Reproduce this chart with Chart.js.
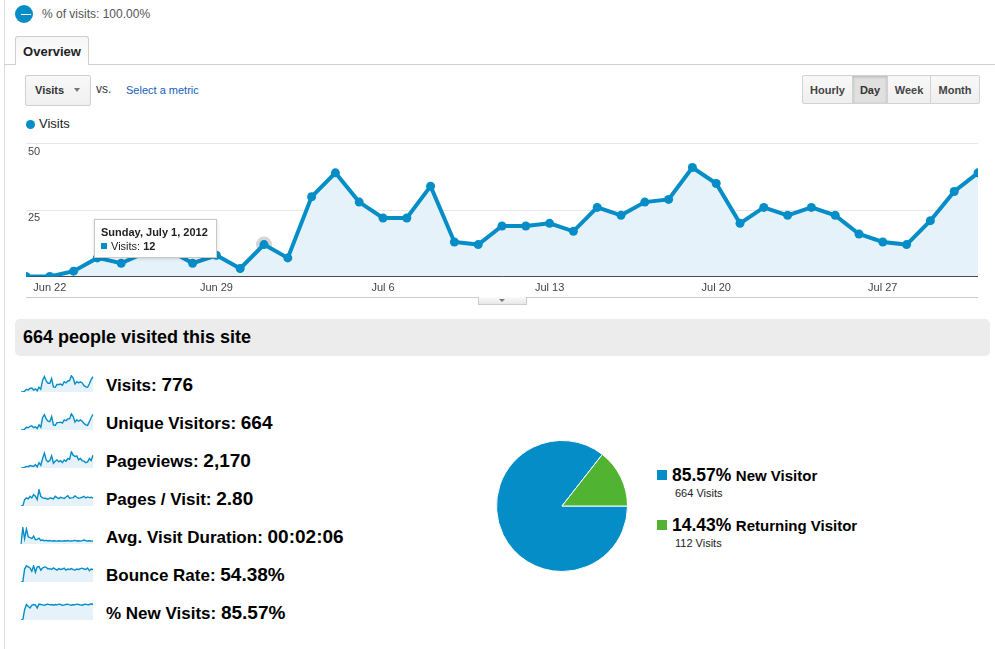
<!DOCTYPE html>
<html><head><meta charset="utf-8">
<script src="https://cdn.jsdelivr.net/npm/chart.js@4.4.0/dist/chart.umd.min.js"></script>
<style>
body{margin:0;width:995px;height:649px;overflow:hidden;background:#fff;font-family:"Liberation Sans",Arial,sans-serif;position:relative;color:#222;}
.a{position:absolute;}
.btn{position:absolute;top:75px;height:29px;line-height:29px;text-align:center;font-size:11px;font-weight:bold;color:#444;background:linear-gradient(#f8f8f8,#efefef);border:1px solid #d2d2d2;box-sizing:border-box;}
.row{position:absolute;left:106px;font-weight:bold;color:#000;font-size:17px;white-space:nowrap;transform:translateY(-50%);}
.row b{font-size:19px;}
.spark{position:absolute;left:20px;}
</style></head><body>
<div class="a" style="left:4px;top:0;width:1px;height:649px;background:#dcdcdc"></div>
<div class="a" style="left:15px;top:5px;width:18px;height:18px;border-radius:50%;background:#058dc7"></div>
<div class="a" style="left:21px;top:13.5px;width:10px;height:1.5px;background:#fff"></div>
<div class="a" style="left:42px;top:6px;font-size:12px;color:#555;line-height:16px">% of visits: 100.00%</div>

<div class="a" style="left:4px;top:64px;width:991px;height:1px;background:#cfcfcf"></div>
<div class="a" style="left:15px;top:36px;width:74px;height:29px;box-sizing:border-box;border:1px solid #cfcfcf;border-bottom:none;border-radius:3px 3px 0 0;background:linear-gradient(#f6f6f6,#fff);font-size:13px;font-weight:bold;line-height:29px;text-align:center;color:#222">Overview</div>

<div class="a" style="left:25px;top:75px;width:66px;height:31px;box-sizing:border-box;border:1px solid #cfcfcf;border-radius:2px;background:linear-gradient(#f8f8f8,#f0f0f0);"></div>
<div class="a" style="left:35px;top:83px;font-size:11px;font-weight:bold;color:#333;line-height:14px">Visits</div>
<div class="a" style="left:74px;top:88px;width:0;height:0;border-left:3.5px solid transparent;border-right:3.5px solid transparent;border-top:4px solid #777"></div>
<div class="a" style="left:96px;top:82px;font-size:12px;color:#333;line-height:14px">vs.</div>
<div class="a" style="left:126px;top:83px;font-size:11px;color:#1560bd;line-height:14px">Select a metric</div>

<div class="btn" style="left:802px;width:51px;border-radius:2px 0 0 2px">Hourly</div>
<div class="btn" style="left:852px;width:36px;background:#e0e0e0;box-shadow:inset 0 1px 3px rgba(0,0,0,0.2);color:#333">Day</div>
<div class="btn" style="left:887px;width:44px">Week</div>
<div class="btn" style="left:930px;width:50px;border-radius:0 2px 2px 0">Month</div>

<div class="a" style="left:25.5px;top:119.5px;width:9px;height:9px;border-radius:50%;background:#058dc7"></div>
<div class="a" style="left:39px;top:116px;font-size:13px;color:#222;line-height:16px">Visits</div>

<canvas id="main" class="a" style="left:26px;top:135px" width="952" height="160"></canvas>
<div id="tip" class="a" style="width:123px;height:39px;box-sizing:border-box;background:#fff;border:1px solid #c8c8c8;box-shadow:0 1px 3px rgba(0,0,0,0.15);font-size:11px;color:#222;line-height:14px;padding:5px 0 0 6px">
<div style="font-weight:bold">Sunday, July 1, 2012</div>
<div><span style="display:inline-block;width:6px;height:6px;background:#058dc7;margin-right:4px;vertical-align:1px"></span>Visits: <b>12</b></div>
</div>

<div class="a" style="left:26px;top:297px;width:952px;height:1px;background:#ccc"></div>
<div class="a" style="left:478px;top:297px;width:49px;height:8px;box-sizing:border-box;border:1px solid #ccc;border-top:none;background:linear-gradient(#fafafa,#e8e8e8)"></div>
<div class="a" style="left:499px;top:299px;width:0;height:0;border-left:3.5px solid transparent;border-right:3.5px solid transparent;border-top:3.5px solid #777"></div>

<div class="a" style="left:15px;top:319px;width:975px;height:37px;background:#ececec;border-radius:5px"></div>
<div class="a" style="left:23px;top:327px;font-size:18px;font-weight:bold;color:#000;line-height:21px">664 people visited this site</div>

<div id="rows"></div>

<canvas id="pie" class="a" style="left:495.5px;top:439.5px" width="132" height="132"></canvas>
<div class="a" style="left:657px;top:469.5px;width:10px;height:10px;background:#058dc7"></div>
<div class="a" style="left:672px;top:465px;font-weight:bold;color:#000;white-space:nowrap;line-height:20px"><span style="font-size:17.5px">85.57%</span> <span style="font-size:15px">New Visitor</span></div>
<div class="a" style="left:675px;top:486px;font-size:11px;color:#222;line-height:14px">664 Visits</div>
<div class="a" style="left:657px;top:519.5px;width:10px;height:10px;background:#50b432"></div>
<div class="a" style="left:672px;top:515px;font-weight:bold;color:#000;white-space:nowrap;line-height:20px"><span style="font-size:17.5px">14.43%</span> <span style="font-size:15px">Returning Visitor</span></div>
<div class="a" style="left:675px;top:536px;font-size:11px;color:#222;line-height:14px">112 Visits</div>

<script>
// ---- data ----
const days = ['Jun 21','Jun 22','Jun 23','Jun 24','Jun 25','Jun 26','Jun 27','Jun 28','Jun 29','Jun 30',
  'Jul 1','Jul 2','Jul 3','Jul 4','Jul 5','Jul 6','Jul 7','Jul 8','Jul 9','Jul 10','Jul 11','Jul 12','Jul 13',
  'Jul 14','Jul 15','Jul 16','Jul 17','Jul 18','Jul 19','Jul 20','Jul 21','Jul 22','Jul 23','Jul 24','Jul 25',
  'Jul 26','Jul 27','Jul 28','Jul 29','Jul 30','Jul 31'];
const tickLabels = ['Jun 22','Jun 29','Jul 6','Jul 13','Jul 20','Jul 27'];
const yTickValues = [25, 50];
const visits = [0,0,2,7,5,9,10,5,8,3,12,7,30,39,28,22,22,34,13,12,19,19,20,17,26,23,28,29,41,35,20,26,23,26,23,16,13,12,21,32,39];
const uniqueVisitors = [0,0,2,6,5,8,9,5,7,3,11,6,27,33,24,19,18,29,11,10,16,16,17,15,22,20,24,24,35,29,17,22,19,22,19,14,11,10,18,27,34];
const pageviews = [0,0,4,12,10,18,15,12,25,8,40,20,70,110,60,45,55,90,35,50,60,45,55,40,60,50,70,65,120,95,85,90,60,70,55,50,40,45,70,55,95];
const pagesPerVisit = [0,0,2,2.5,2.2,3,2.5,3.5,3,2,5,3,2.5,2.4,2.3,2.1,2.5,2.4,2.2,3,2.6,2.3,2.7,2.5,2.3,2.8,3.2,2.4,2.5,2.6,3.1,2.7,2.4,2.5,2.7,3,2.5,2.8,2.6,2.7,2.4];
const avgDuration = [0,450,150,420,200,180,150,220,120,130,160,100,110,90,100,85,95,80,90,85,80,90,85,80,90,85,95,80,85,90,100,85,90,80,95,110,90,85,90,80,85];
const bounceRate = [0,0,60,75,70,65,50,75,45,70,72,55,65,70,68,60,62,58,65,60,55,62,58,60,64,55,60,58,62,57,55,60,58,62,64,60,58,65,52,60,58];
const newVisitsPct = [0,0,60,90,80,70,85,90,88,70,92,90,88,85,90,92,88,90,86,90,88,92,90,85,88,90,92,88,86,90,88,92,90,88,86,90,92,88,90,94,90];
const metricNames = ['Visits:','Unique Visitors:','Pageviews:','Pages / Visit:','Avg. Visit Duration:','Bounce Rate:','% New Visits:'];
const metricValues = ['776','664','2,170','2.80','00:02:06','54.38%','85.57%'];
const pieLabels = ['New Visitor','Returning Visitor'];
const pieValues = [664, 112];

const BLUE = '#058dc7', FILL = '#e6f2f9';

// ---- main chart ----
const halo = {
  id:'halo',
  beforeDatasetsDraw(chart){
    const p = chart.getDatasetMeta(0).data[10];
    const c = chart.ctx; c.save();
    c.fillStyle='rgba(0,0,0,0.16)';
    c.beginPath(); c.arc(p.x,p.y,8,0,Math.PI*2); c.fill(); c.restore();
  }
};
const mainChart = new Chart(document.getElementById('main'), {
  type:'line',
  data:{labels:days, datasets:[{data:visits, borderColor:BLUE, borderWidth:4, backgroundColor:FILL, fill:'origin',
    pointRadius:4.5, pointBackgroundColor:BLUE, pointBorderWidth:0, tension:0}]},
  options:{
    responsive:false, animation:false, events:[],
    layout:{autoPadding:false, padding:{top:6,left:0,right:0,bottom:0}},
    plugins:{legend:{display:false}, tooltip:{enabled:false}},
    scales:{
      x:{grid:{display:true,drawOnChartArea:false,drawTicks:true,tickLength:5,tickColor:'rgba(0,0,0,0)'}, border:{color:'#333',width:1},
        ticks:{autoSkip:false,maxRotation:0,padding:0,color:'#444',font:{family:'"Liberation Sans",Arial',size:11},
          callback:function(v){const l=this.getLabelForValue(v);return tickLabels.includes(l)?l:'';}},
        afterFit:s=>{s.height=18.5;}},
      y:{min:0,max:50,grid:{color:'#e6e6e6',drawTicks:false}, border:{display:false},
        afterBuildTicks:s=>{s.ticks=[0].concat(yTickValues).map(v=>({value:v}));},
        ticks:{mirror:true,padding:2,labelOffset:8,color:'#444',font:{family:'"Liberation Sans",Arial',size:11},
          callback:v=>yTickValues.includes(v)?String(v):''},
        afterFit:s=>{s.width=0;}}
    }
  },
  plugins:[halo]
});
const pt = mainChart.getDatasetMeta(0).data[10];
const tip = document.getElementById('tip');
tip.style.left = (26 + pt.x - 170) + 'px';
tip.style.top = (135 + pt.y - 26) + 'px';

// ---- metric rows + sparklines ----
const sparkSeries = [visits, uniqueVisitors, pageviews, pagesPerVisit, avgDuration, bounceRate, newVisitsPct];
const rows = document.getElementById('rows');
metricNames.forEach((name,i)=>{
  const cy = 385 + 38*i;
  const d = document.createElement('div');
  d.className='row'; d.style.top = cy+'px';
  d.innerHTML = name + ' <b>' + metricValues[i] + '</b>';
  rows.appendChild(d);
  const cv = document.createElement('canvas');
  cv.className='spark'; cv.width=74; cv.height=19; cv.style.top=(374+38*i)+'px';
  rows.appendChild(cv);
  const series = sparkSeries[i];
  new Chart(cv,{type:'line',
    data:{labels:days,datasets:[{data:series,borderColor:BLUE,borderWidth:1.4,backgroundColor:FILL,fill:'origin',pointRadius:0,tension:0}]},
    options:{responsive:false,animation:false,events:[],layout:{padding:1},
      plugins:{legend:{display:false},tooltip:{enabled:false}},
      scales:{x:{display:false},y:{display:false,min:0,max:Math.max(...series)*1.05}}}});
});

// ---- pie ----
new Chart(document.getElementById('pie'),{type:'pie',
  data:{labels:pieLabels,datasets:[{data:pieValues,backgroundColor:[BLUE,'#50b432'],borderColor:'#fff',borderWidth:1}]},
  options:{responsive:false,animation:false,events:[],rotation:90,layout:{padding:0},
    plugins:{legend:{display:false},tooltip:{enabled:false}}}});
</script>
</body></html>
